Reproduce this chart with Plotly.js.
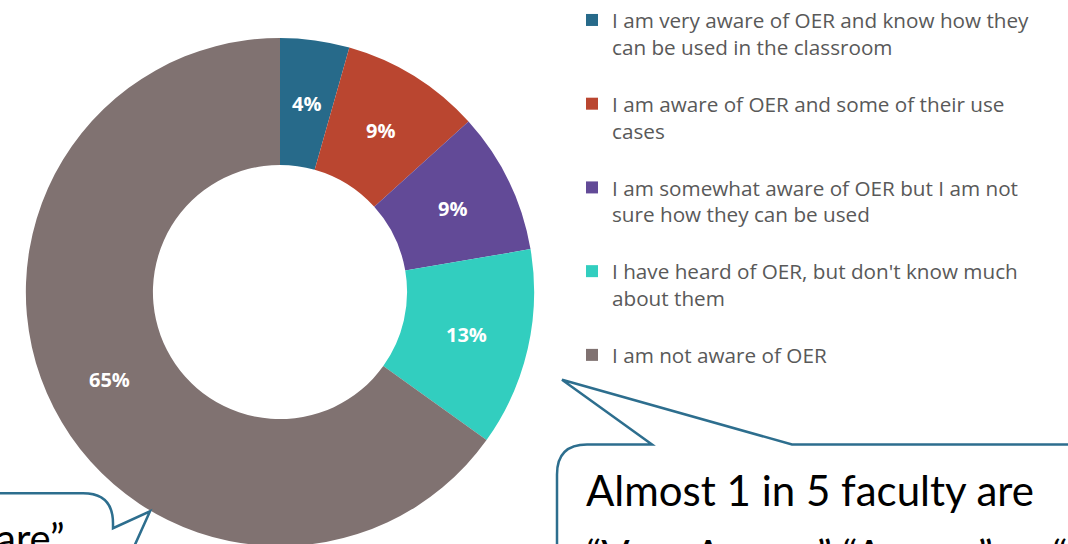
<!DOCTYPE html>
<html>
<head>
<meta charset="utf-8">
<script src="https://cdn.plot.ly/plotly-3.0.1.min.js"></script>
<style>
html,body{margin:0;padding:0;overflow:hidden;background:#fff;}
#chart{width:1068px;height:600px;}
</style>
</head>
<body>
<div id="chart"></div>
<script>
// ---- data ----
const categories = [
  "I am very aware of OER and know how they<br>can be used in the classroom<br> ",
  "I am aware of OER and some of their use<br>cases<br> ",
  "I am somewhat aware of OER but I am not<br>sure how they can be used<br> ",
  "I have heard of OER, but don't know much<br>about them<br> ",
  "I am not aware of OER"
];
const values = [4.4, 8.9, 9.0, 12.6, 65.1];
const sliceColors = ["#276a8a", "#ba4630", "#624a97", "#32cebf", "#807271"];
const calloutRightLine1 = "Almost 1 in 5 faculty are";
const calloutRightLine2 = "“Very Aware,” “Aware,” or “Somewhat Aware”";
const calloutLeft = "are”";

// ---- layout helpers (pixel -> paper) ----
const W = 1068, H = 600;
const px = x => x / W;
const py = y => 1 - y / H;
const P = (x, y) => px(x).toFixed(5) + "," + py(y).toFixed(5);

const cx = 280, cy = 291, R = 255, HOLE = 0.5;

const trace = {
  type: "pie",
  labels: categories,
  values: values,
  sort: false,
  direction: "clockwise",
  rotation: 0,
  hole: HOLE,
  marker: {colors: sliceColors, line: {width: 0}},
  textposition: "none",
  domain: {x: [px(cx - R), px(cx + R)], y: [py(cy + R), py(cy - R)]},
  hoverinfo: "label+percent"
};

// percentage labels placed at the middle of each ring segment
const total = values.reduce((a, b) => a + b, 0);
const midR = R * (1 + HOLE) / 2;
let cum = 0;
const pctAnnotations = values.map(v => {
  const mid = (cum + v / 2) / total * 2 * Math.PI;
  cum += v;
  return {
    xref: "paper", yref: "paper",
    x: px(cx + midR * Math.sin(mid)), y: py(cy - midR * Math.cos(mid)),
    xanchor: "center", yanchor: "middle", showarrow: false,
    text: Math.round(v / total * 100) + "%",
    font: {family: "Open Sans", size: 20, color: "#ffffff", weight: "bold"}
  };
});

const stroke = {color: "#2d6e8e", width: 2.5};

const rightBubble = "M" + P(557, 620) + " L" + P(557, 474) + " Q" + P(557, 444) + " " + P(587, 444) +
  " L" + P(652, 444) + " L" + P(562, 379) + " L" + P(792, 444) + " L" + P(1090, 444);
const leftBubble = "M" + P(-10, 493) + " L" + P(83, 493) + " Q" + P(113, 493) + " " + P(113, 523) +
  " L" + P(113, 528) + " L" + P(150, 511) + " L" + P(128, 560);

const layout = {
  width: W, height: H,
  margin: {l: 0, r: 0, t: 0, b: 0},
  paper_bgcolor: "#ffffff",
  showlegend: true,
  legend: {
    x: px(572), y: py(-2), xanchor: "left", yanchor: "top",
    valign: "top",
    maxheight: 1,
    font: {family: "Open Sans", size: 20.7, color: "#595959"},
    bgcolor: "rgba(0,0,0,0)"
  },
  shapes: [
    {type: "path", xref: "paper", yref: "paper", path: rightBubble, line: stroke, fillcolor: "rgba(0,0,0,0)"},
    {type: "path", xref: "paper", yref: "paper", path: leftBubble, line: stroke, fillcolor: "rgba(0,0,0,0)"}
  ],
  annotations: pctAnnotations.concat([
    {xref: "paper", yref: "paper", x: px(584), y: py(463), xanchor: "left", yanchor: "top", align: "left",
     showarrow: false, text: calloutRightLine1, font: {family: "Lato", size: 42, color: "#000000"}},
    {xref: "paper", yref: "paper", x: px(584), y: py(528), xanchor: "left", yanchor: "top", align: "left",
     showarrow: false, text: calloutRightLine2, font: {family: "Lato", size: 42, color: "#000000"}},
    {xref: "paper", yref: "paper", x: px(-6), y: py(512), xanchor: "left", yanchor: "top", align: "left",
     showarrow: false, text: calloutLeft, font: {family: "Lato", size: 40, color: "#000000"}}
  ])
};

Plotly.newPlot("chart", [trace], layout, {displayModeBar: false, staticPlot: true});
</script>
</body>
</html>
